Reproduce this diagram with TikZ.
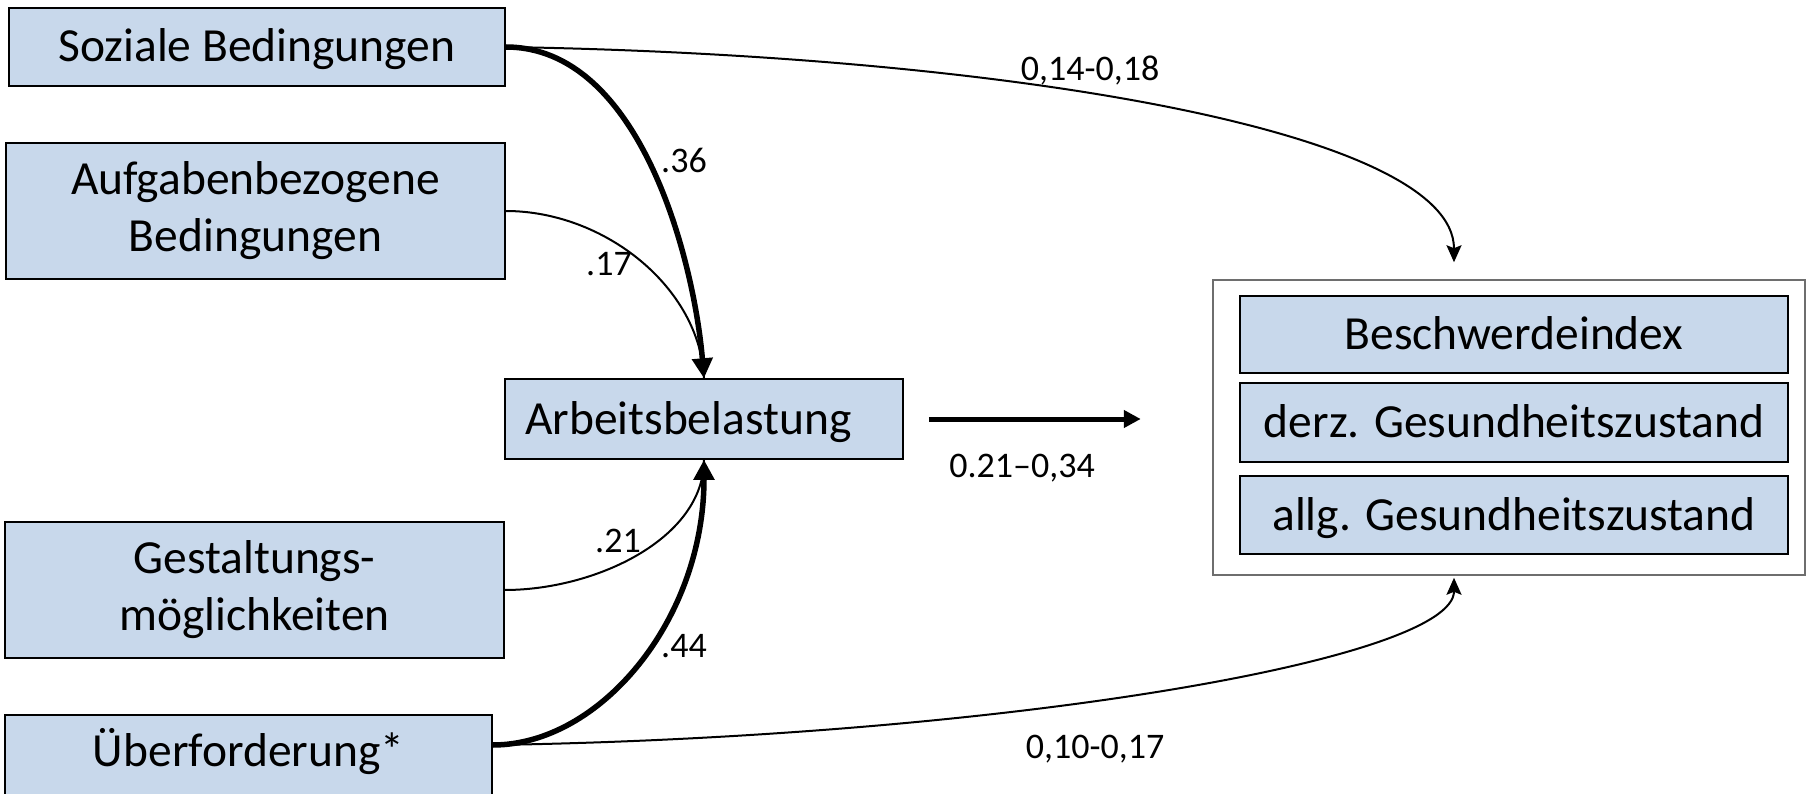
\documentclass[tikz,border=0pt]{standalone}
\usepackage{fontspec}
\setmainfont{Carlito}
\usetikzlibrary{arrows.meta}
\definecolor{boxfill}{RGB}{200,216,235}
\definecolor{outergray}{RGB}{110,110,110}
\begin{document}
\begin{tikzpicture}[x=1pt,y=-1pt,
  basebox/.style={draw=black, line width=1.5pt, fill=boxfill, inner sep=0pt, align=center,
    font=\fontsize{47.5}{57}\selectfont},
  onebox/.style={basebox, text height=38pt, text depth=8pt},
  twobox/.style={basebox},
  coef/.style={font=\fontsize{36}{43}\selectfont, inner sep=0pt, anchor=base},
  thickpath/.style={line width=5.5pt},
  thinpath/.style={line width=2pt},
  bigtip/.style={-{Triangle[length=20pt,width=20pt]}},
  smalltip/.style={-{Stealth[length=17pt,width=15pt,inset=3pt]}}
]
\useasboundingbox (0,0) rectangle (1812,794);

% left boxes
\node[onebox, minimum width=496pt, minimum height=78pt] (soz) at (257,47) {Soziale Bedingungen};
\node[twobox, minimum width=499pt, minimum height=136pt] (auf) at (255.5,211) {Aufgabenbezogene\\Bedingungen};
\node[onebox, align=left, text width=358pt, inner xsep=20pt, minimum width=398pt, minimum height=80pt] (arb) at (704,419) {Arbeitsbelastung};
\node[twobox, minimum width=499pt, minimum height=136pt] (ges) at (254.5,590) {Gestaltungs-\\möglichkeiten};
\node[basebox, text height=38pt, text depth=18pt, minimum width=487pt, minimum height=82pt] (ueb) at (248.5,756) {Überforderung*};

% outcome group
\node[draw=outergray, line width=1.5pt, fill=white, minimum width=592pt, minimum height=295pt, inner sep=0pt] (outer) at (1509,427.5) {};
\node[onebox, minimum width=548pt, minimum height=77pt] (besch) at (1514,334.5) {Beschwerdeindex};
\node[onebox, minimum width=548pt, minimum height=79pt] (derz) at (1514,422.5) {derz. Gesundheitszustand};
\node[onebox, minimum width=548pt, minimum height=78pt] (allg) at (1514,515) {allg. Gesundheitszustand};

% helper coordinates
\coordinate (uebr) at ([yshift=11pt]ueb.east);
\coordinate (otop) at ([xshift=-55pt,yshift=17pt]outer.north);
\coordinate (obot) at ([xshift=-55pt,yshift=-2pt]outer.south);
\coordinate (h1) at ([xshift=25pt]arb.east);
\coordinate (h2) at ([xshift=237pt]arb.east);

% connectors into Arbeitsbelastung
\draw[thinpath] (auf.east) .. controls (605,211) and (700,288) .. (arb.north);
\draw[thickpath, bigtip] (soz.east) .. controls (640,47) and (694,260) .. (arb.north);
\draw[thinpath] (ges.east) .. controls (595,590) and (704,539) .. (arb.south);
\draw[thickpath, bigtip] (uebr) .. controls (600,745) and (704,620) .. (arb.south);

% connectors to outcomes
\draw[thinpath, smalltip] (soz.east) .. controls (1000,55) and (1454,130) .. (otop);
\draw[thinpath, smalltip] (uebr) .. controls (1000,737) and (1454,660) .. (obot);
\draw[line width=5pt, -{Triangle[length=17pt,width=17pt]}] (h1) -- (h2);

% coefficients
\node[coef] (l36) at (684,173) {.36};
\node[coef] (l17) at (609,276) {.17};
\node[coef] (l21) at (618,552) {.21};
\node[coef] (l44) at (684,657) {.44};
\node[coef] (l1418) at (1090,81) {0,14-0,18};
\node[coef] (lmid) at (1022,477) {0.21–0,34};
\node[coef] (l1017) at (1095,758) {0,10-0,17};
\end{tikzpicture}
\end{document}
